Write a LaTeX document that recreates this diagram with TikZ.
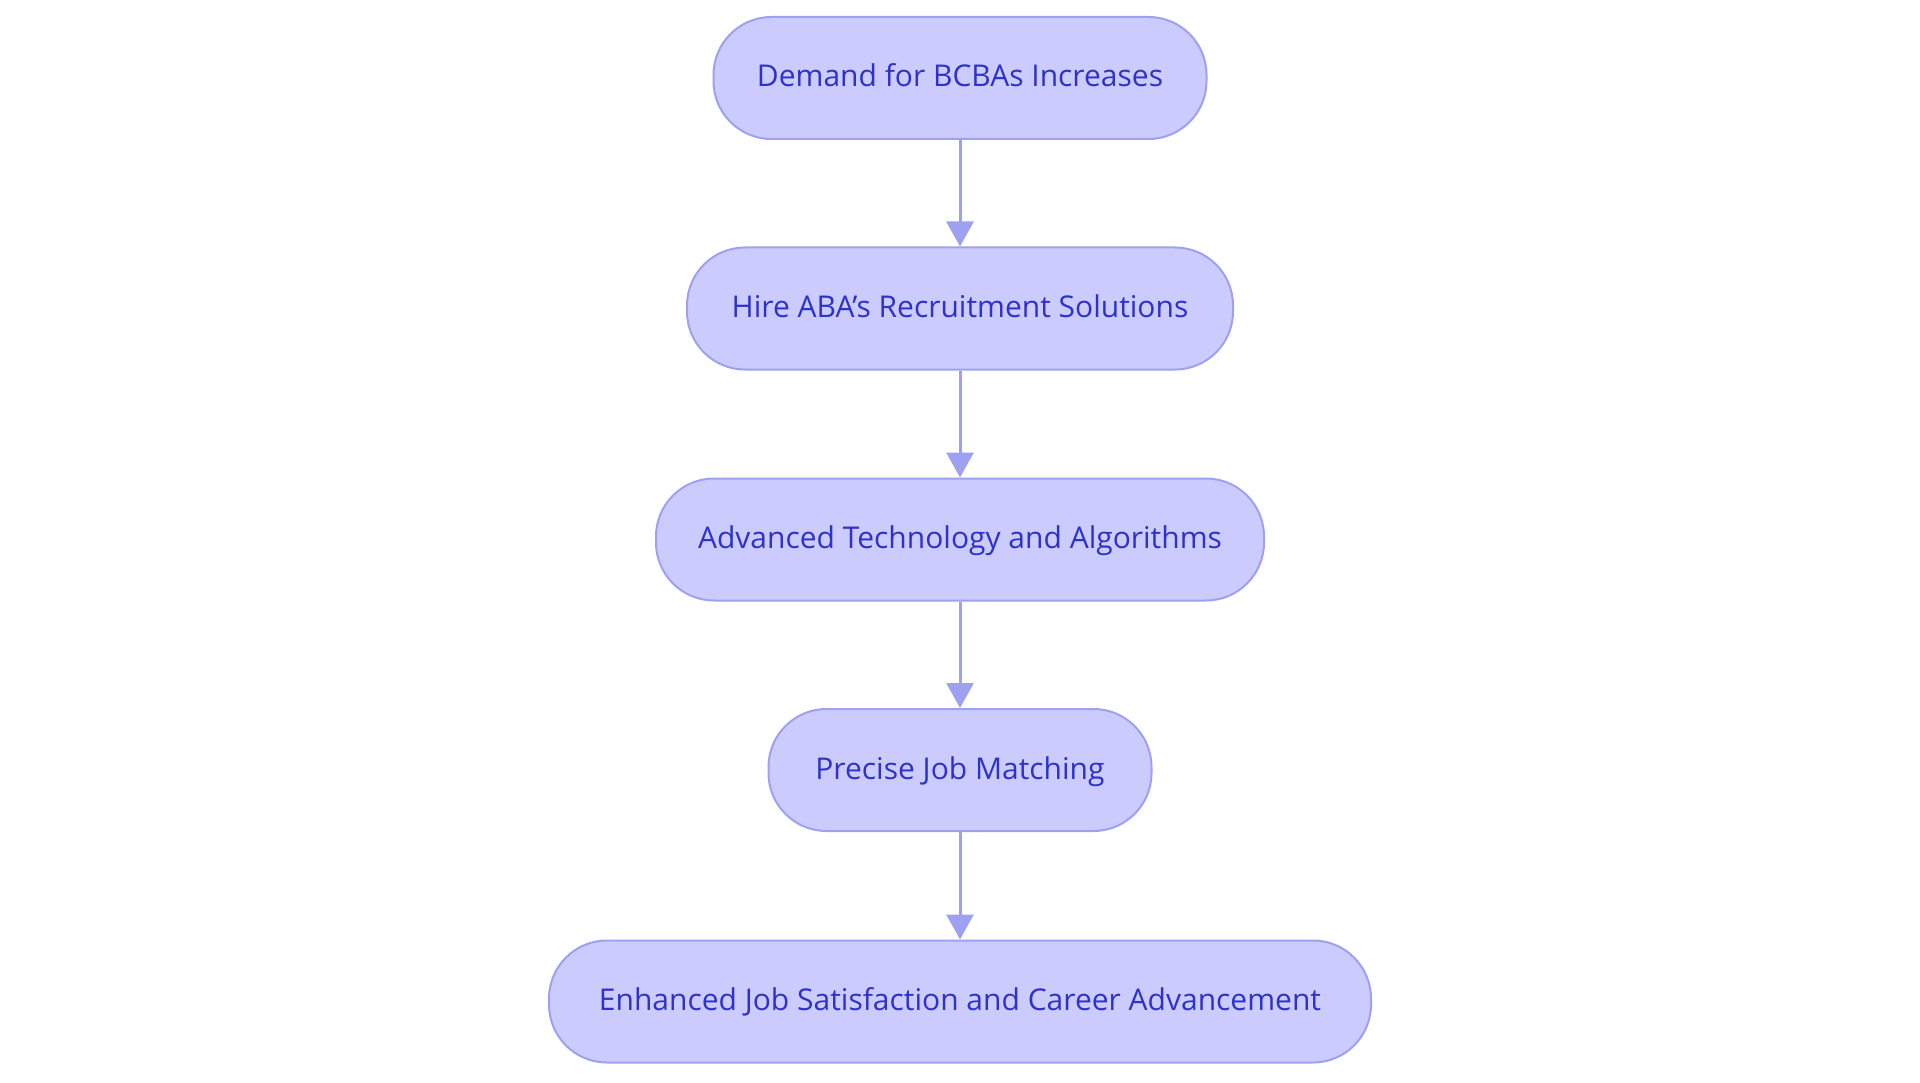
\documentclass[tikz,border=0pt]{standalone}
\usepackage{fontspec}
\setmainfont{Open Sans}
\usetikzlibrary{arrows.meta}
\definecolor{boxfill}{RGB}{203,204,253}
\definecolor{boxline}{RGB}{158,161,240}
\definecolor{boxtext}{RGB}{46,50,200}
\begin{document}
\begin{tikzpicture}[x=1pt,y=1pt,
  flowbox/.style={draw=boxline, line width=2pt, fill=boxfill, rounded corners=58pt,
    minimum height=122pt, inner sep=0pt, text=boxtext, text height=24pt, text depth=6pt,
    font=\fontsize{30}{36}\selectfont},
  flowarrow/.style={draw=boxline, line width=3pt, -{Triangle[width=27pt,length=25pt]}, shorten >=0pt}]
\useasboundingbox (0,0) rectangle (1920,-1083);
\fill[white] (0,0) rectangle (1920,-1083);
\node[flowbox, minimum width=493pt] (n1) at (960,-78) {Demand for BCBAs Increases};
\node[flowbox, minimum width=546pt] (n2) at (960,-308.5) {Hire ABA’s Recruitment Solutions};
\node[flowbox, minimum width=608pt] (n3) at (960,-539.5) {Advanced Technology and Algorithms};
\node[flowbox, minimum width=383pt] (n4) at (960,-770) {Precise Job Matching};
\node[flowbox, minimum width=822pt] (n5) at (960,-1001.5) {Enhanced Job Satisfaction and Career Advancement};
\draw[flowarrow] (n1.south) -- (n2.north);
\draw[flowarrow] (n2.south) -- (n3.north);
\draw[flowarrow] (n3.south) -- (n4.north);
\draw[flowarrow] (n4.south) -- (n5.north);
\end{tikzpicture}
\end{document}
